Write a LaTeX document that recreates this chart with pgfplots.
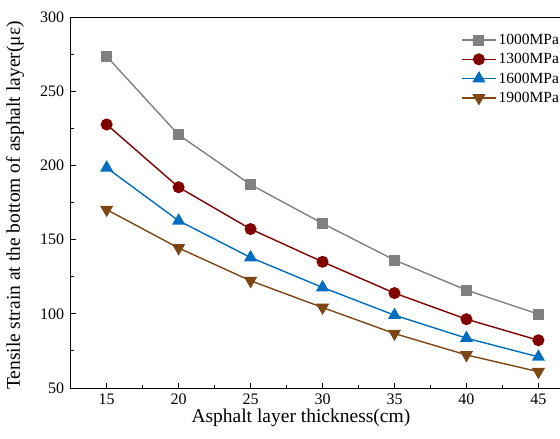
\documentclass[border=0pt]{standalone}
\usepackage{fontspec}
\setmainfont{Liberation Serif}
\usepackage{pgfplots}
\pgfplotsset{compat=1.18}

\definecolor{c1000}{RGB}{128,128,128}
\definecolor{c1300}{RGB}{128,0,0}
\definecolor{c1600}{RGB}{0,110,190}
\definecolor{c1900}{RGB}{125,70,20}

\begin{document}
\begin{tikzpicture}
\begin{axis}[
  scale only axis,
  width=503.7pt, height=370.7pt,
  xmin=12.5, xmax=47.5, ymin=50, ymax=300,
  xtick={15,20,...,45}, minor x tick num=1,
  ytick={50,100,...,300}, minor y tick num=1,
  xtick pos=bottom, ytick pos=left,
  tick align=inside,
  major tick length=5pt, minor tick length=3pt,
  tick style={black, line width=0.9pt},
  axis line style={line width=0.9pt},
  /pgf/number format/assume math mode=true,
  tick label style={font=\fontsize{16}{16}\selectfont},
  xticklabel style={yshift=-2pt},
  yticklabel style={xshift=-3pt},
  xlabel={Asphalt layer thickness(cm)},
  ylabel={Tensile strain at the bottom of asphalt layer(με)},
  every axis x label/.style={at={(axis description cs:0.457,-0.081)}, anchor=center,
    font=\fontsize{19.5}{20}\selectfont},
  every axis y label/.style={at={(axis description cs:-0.1106,0.492)}, rotate=90, anchor=center,
    font=\fontsize{19.5}{20}\selectfont},
  legend style={draw=none, fill=none, font=\fontsize{15.5}{16}\selectfont,
    at={(axis description cs:0.769,0.966)}, anchor=north west, row sep=3.5pt},
  legend cell align=left,
  legend image code/.code={\draw[mark repeat=2,mark phase=2,#1] plot coordinates {(0pt,0pt) (17pt,0pt) (34pt,0pt)};},
  every axis plot/.append style={line width=1.4pt},
]
\addplot[color=c1000, mark=square*, mark size=4.8pt, mark options={solid}] coordinates {
  (15,273.6) (20,220.7) (25,187.2) (30,161) (35,136.3) (40,116) (45,99.8)};
\addlegendentry{1000MPa}
\addplot[color=c1300, mark=*, mark size=5.3pt] coordinates {
  (15,227.7) (20,185.4) (25,157.2) (30,135.1) (35,114) (40,96.4) (45,82.2)};
\addlegendentry{1300MPa}
\addplot[color=c1600, mark=triangle*, mark size=6.2pt] coordinates {
  (15,198.5) (20,162.8) (25,138) (30,117.8) (35,99.1) (40,83.6) (45,71)};
\addlegendentry{1600MPa}
\addplot[color=c1900, mark=triangle*, mark size=6.2pt, mark options={rotate=180}] coordinates {
  (15,170.3) (20,144.4) (25,122.3) (30,104.3) (35,86.7) (40,72.3) (45,61)};
\addlegendentry{1900MPa}
\end{axis}
\pgfresetboundingbox
\path[use as bounding box] ([shift={(-70.7pt,-51pt)}]current axis.south west)
  rectangle ([shift={(489.3pt,388pt)}]current axis.south west);
\end{tikzpicture}
\end{document}
